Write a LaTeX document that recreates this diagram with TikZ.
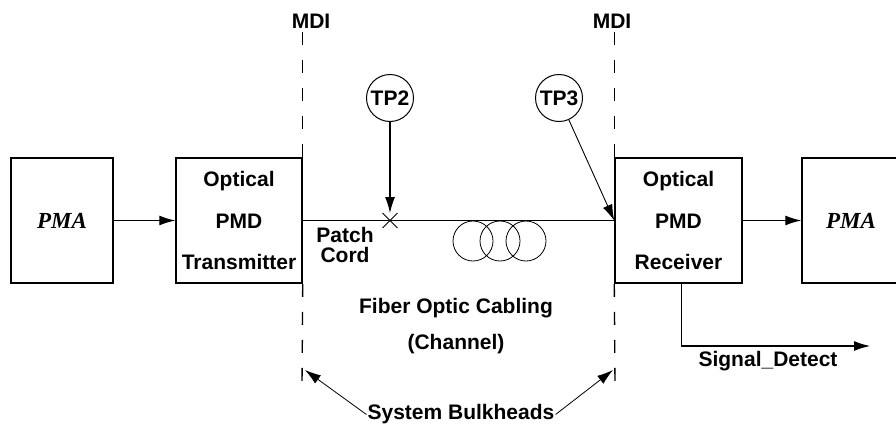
\documentclass[tikz,border=0pt]{standalone}
\usepackage{fontspec}
\setmainfont{Liberation Sans}
\newfontfamily\pmafont{Liberation Serif}
\usetikzlibrary{arrows.meta,positioning,shapes.misc}

\begin{document}
\begin{tikzpicture}[x=1pt,y=-1pt,
  blk/.style={draw,line width=1.5pt,minimum height=125pt,inner sep=0pt},
  lbl/.style={font=\bfseries\fontsize{21}{41.5}\selectfont,align=center},
  pma/.style={font=\pmafont\bfseries\itshape\fontsize{23}{26}\selectfont},
  tp/.style={draw,circle,line width=1pt,minimum size=47pt,inner sep=0pt,font=\bfseries\fontsize{21}{24}\selectfont},
  mdi/.style={dash pattern=on 13pt off 15pt,line width=1.4pt},
  arr/.style={-{Latex[length=16pt,width=10pt]},line width=1.2pt}]
  \useasboundingbox (0,0) rectangle (896,426);
  % blocks
  \node[blk,pma,minimum width=102pt] (pmaL) at (62,220.5) {PMA};
  \node[blk,lbl,minimum width=126pt] (tx) at (239,220.5) {Optical\\PMD\\Transmitter};
  \node[blk,lbl,minimum width=127pt] (rx) at (678.5,220.5) {Optical\\PMD\\Receiver};
  \node[blk,minimum width=130pt] (pmaR) at (867,220.5) {};
  \node[pma] (pmaRtxt) at (851,220.5) {PMA};
  % MDI
  \node[font=\bfseries\fontsize{21}{24}\selectfont] (mdiL) at (311,21) {MDI};
  \node[font=\bfseries\fontsize{21}{24}\selectfont] (mdiR) at (612,21) {MDI};
  \coordinate (mdiLbot) at (302,382);
  \coordinate (mdiRbot) at (615,382);
  \draw[mdi] (mdiL.south -| tx.north east) -- (tx.north east);
  \draw[mdi] (tx.south east) -- (mdiLbot);
  \draw[mdi] (mdiR.south -| rx.north west) -- (rx.north west);
  \draw[mdi] (rx.south west) -- (mdiRbot);
  % fiber
  \draw[line width=1.2pt] (tx.east) -- (rx.west);
  \draw[arr] (pmaL) -- (tx);
  \draw[arr] (rx) -- (pmaR);
  \node[cross out,draw,line width=0.9pt,minimum size=14pt,inner sep=0pt] (cut) at (390,220.5) {};
  \foreach \cx in {473,500,526}
    \draw[line width=0.8pt] (\cx,241) circle[radius=20pt];
  % test points
  \node[tp] (tp2) at (390,98) {TP2};
  \node[tp] (tp3) at (559,98) {TP3};
  \draw[arr] (tp2) -- (cut.north);
  \draw[arr,line width=0.9pt] (tp3) -- (rx.west);
  % labels
  \node[lbl,font=\bfseries\fontsize{21}{20}\selectfont] (patch) at (345,245) {Patch\\Cord};
  \node[lbl,font=\bfseries\fontsize{21}{36}\selectfont] (chan) at (456,326) {Fiber Optic Cabling\\(Channel)};
  \node[lbl,inner sep=1pt] (sb) at (461,414.5) {System Bulkheads};
  \coordinate (bkL) at (305,370);
  \coordinate (bkR) at (613,370);
  \draw[arr,line width=0.8pt] (sb.west) -- (bkL);
  \draw[arr,line width=0.8pt] (sb.east) -- (bkR);
  % signal detect
  \coordinate (sdEnd) at (870,346);
  \draw[arr] ([xshift=3pt]rx.south) |- (sdEnd);
  \node[lbl] (sd) at (768,361) {Signal\_Detect};
\end{tikzpicture}
\end{document}
